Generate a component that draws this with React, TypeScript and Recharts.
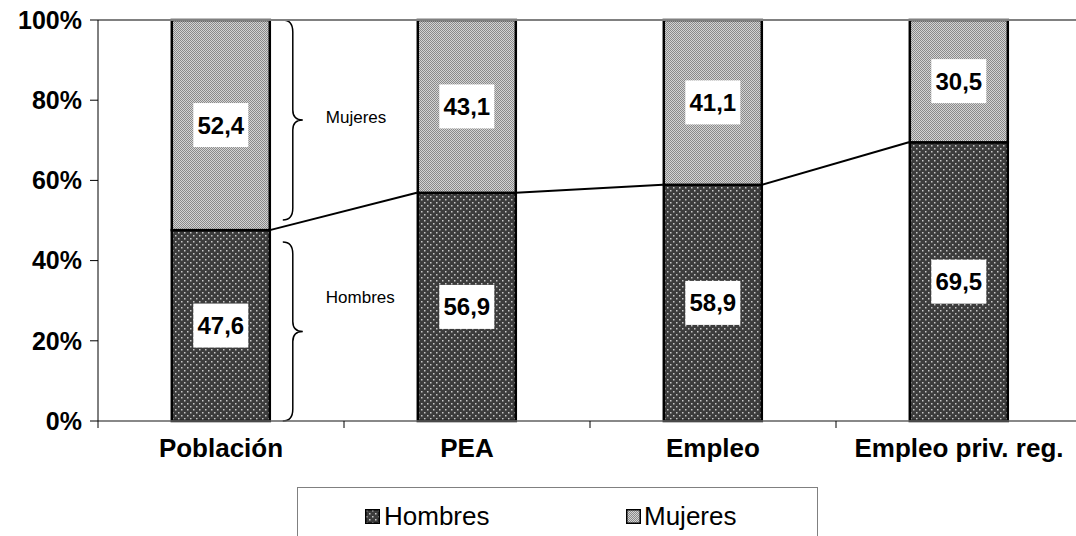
import React from "react";
import { BarChart, Bar, XAxis, YAxis, ReferenceLine, LabelList } from "recharts";

const categories = ["Población", "PEA", "Empleo", "Empleo priv. reg."];
const hombres = [47.6, 56.9, 58.9, 69.5];
const mujeres = [52.4, 43.1, 41.1, 30.5];
const yTicks = [0, 20, 40, 60, 80, 100];

const data = categories.map((name, i) => ({
  name,
  hombres: hombres[i],
  mujeres: mujeres[i],
}));

const FONT = "'Liberation Sans', Arial, sans-serif";
const GAP = 0.3; // barCategoryGap as a fraction of the band

const fmt = (v: number) => v.toFixed(1).replace(".", ",");

const Patterns = ({ prefix }: { prefix: string }) => (
  <defs>
    <pattern id={`${prefix}H`} width="6" height="6" patternUnits="userSpaceOnUse">
      <rect width="6" height="6" fill="#3c3c3c" />
      <rect x="1" y="1" width="1.5" height="1.5" fill="#c8c8c8" />
      <rect x="4" y="4" width="1.5" height="1.5" fill="#c8c8c8" />
    </pattern>
    <pattern id={`${prefix}M`} width="2" height="2" patternUnits="userSpaceOnUse">
      <rect width="2" height="2" fill="#d4d4d4" />
      <rect width="1" height="1" fill="#8a8a8a" />
      <rect x="1" y="1" width="1" height="1" fill="#8a8a8a" />
    </pattern>
  </defs>
);

const ValueBox = (props: any) => {
  const { x, y, width, height, value } = props;
  const cx = x + width / 2;
  const cy = y + height / 2;
  return (
    <g>
      <rect x={cx - 27.5} y={cy - 22} width={55} height={44} fill="#fff" />
      <text
        x={cx}
        y={cy}
        textAnchor="middle"
        dominantBaseline="central"
        fontFamily={FONT}
        fontWeight="bold"
        fontSize={24}
        fill="#000"
      >
        {fmt(value)}
      </text>
    </g>
  );
};

// curly brace with a side note
const Brace = ({ x, top, bot, text, textDy }: any) => {
  const ym = (top + bot) / 2;
  const d = `M${x - 10},${top} Q${x},${top} ${x},${top + 12} L${x},${ym - 10} Q${x},${ym} ${x + 10},${ym} Q${x},${ym} ${x},${ym + 10} L${x},${bot - 12} Q${x},${bot} ${x - 10},${bot}`;
  return (
    <g>
      <path d={d} fill="none" stroke="#000" strokeWidth={1.5} />
      <text x={x + 33} y={ym + textDy} fontSize={17} fontFamily={FONT} dominantBaseline="central" fill="#000">
        {text}
      </text>
    </g>
  );
};

// Hombres segment: bar + series line to the next bar + brace on the first one
const HombresShape = (props: any) => {
  const { x, y, width, height, index, fill } = props;
  const bottom = y + height;
  const perUnit = height / hombres[index];
  const band = width / (1 - 2 * GAP);
  const hasNext = index < hombres.length - 1;
  return (
    <g>
      <rect x={x} y={y} width={width} height={height} fill={fill} stroke="#000" strokeWidth={2.5} />
      {hasNext && (
        <line
          x1={x + width}
          y1={y}
          x2={x + band}
          y2={bottom - hombres[index + 1] * perUnit}
          stroke="#000"
          strokeWidth={2}
        />
      )}
      {index === 0 && (
        <Brace x={x + width + 23} top={y + 12} bot={bottom} text="Hombres" textDy={-34} />
      )}
    </g>
  );
};

const MujeresShape = (props: any) => {
  const { x, y, width, height, index, fill } = props;
  return (
    <g>
      <rect x={x} y={y} width={width} height={height} fill={fill} stroke="#000" strokeWidth={2.5} />
      {index === 0 && (
        <Brace x={x + width + 23} top={y} bot={y + height - 10} text="Mujeres" textDy={-3} />
      )}
    </g>
  );
};

// category label plus a tick mark on the band's left boundary
const CategoryTick = (props: any) => {
  const { x, y, payload } = props;
  const axisY = y - 19;
  const bx = x - (payload.offset || 0);
  return (
    <g>
      <line x1={bx} y1={axisY} x2={bx} y2={axisY + 7} stroke="#000" />
      <text
        x={x}
        y={y - 1}
        dy="0.71em"
        textAnchor="middle"
        fontFamily={FONT}
        fontWeight="bold"
        fontSize={26}
        fill="#000"
      >
        {payload.value}
      </text>
    </g>
  );
};

const LegendIcon = ({ id }: { id: string }) => (
  <svg width={15} height={15} style={{ position: "absolute", left: 0, top: 0 }}>
    <Patterns prefix={`lg${id}`} />
    <rect x={0.75} y={0.75} width={13.5} height={13.5} fill={`url(#lg${id}${id})`} stroke="#000" strokeWidth={1.5} />
  </svg>
);

export default function App() {
  return (
    <div
      style={{
        position: "absolute",
        left: 0,
        top: 0,
        width: 1076,
        height: 536,
        overflow: "hidden",
        background: "#fff",
        fontFamily: FONT,
      }}
    >
      <BarChart
        width={1090}
        height={536}
        data={data}
        margin={{ top: 20, right: 8, bottom: 0, left: 0 }}
        barCategoryGap={`${GAP * 100}%`}
      >
        <Patterns prefix="p" />
        <XAxis
          dataKey="name"
          axisLine={{ stroke: "#606060", strokeWidth: 1.5 }}
          tickLine={false}
          height={115}
          interval={0}
          tickSize={6}
          tickMargin={13}
          tick={<CategoryTick />}
        />
        <YAxis
          width={98}
          domain={[0, 100]}
          ticks={yTicks}
          tickFormatter={(v: number) => `${v}%`}
          tickSize={8}
          tickMargin={8}
          axisLine={{ stroke: "#000" }}
          tickLine={{ stroke: "#000" }}
          tick={{ fontFamily: FONT, fontWeight: "bold", fontSize: 25, fill: "#000" }}
        />
        <ReferenceLine y={100} stroke="#808080" strokeWidth={2} />
        <Bar
          dataKey="hombres"
          stackId="a"
          fill="url(#pH)"
          shape={<HombresShape />}
          isAnimationActive={false}
        >
          <LabelList dataKey="hombres" content={ValueBox} />
        </Bar>
        <Bar
          dataKey="mujeres"
          stackId="a"
          fill="url(#pM)"
          shape={<MujeresShape />}
          isAnimationActive={false}
        >
          <LabelList dataKey="mujeres" content={ValueBox} />
        </Bar>
      </BarChart>
      <div
        style={{
          position: "absolute",
          left: 297,
          top: 487,
          width: 521,
          height: 60,
          border: "1px solid #808080",
          background: "#fff",
          boxSizing: "border-box",
        }}
      >
        <div style={{ position: "absolute", left: 67, top: 21, width: 15, height: 15 }}>
          <LegendIcon id="H" />
        </div>
        <span style={{ position: "absolute", left: 86, top: 13, fontSize: 26, lineHeight: "30px", color: "#000" }}>
          Hombres
        </span>
        <div style={{ position: "absolute", left: 328, top: 21, width: 15, height: 15 }}>
          <LegendIcon id="M" />
        </div>
        <span style={{ position: "absolute", left: 346, top: 13, fontSize: 26, lineHeight: "30px", color: "#000" }}>
          Mujeres
        </span>
      </div>
    </div>
  );
}
